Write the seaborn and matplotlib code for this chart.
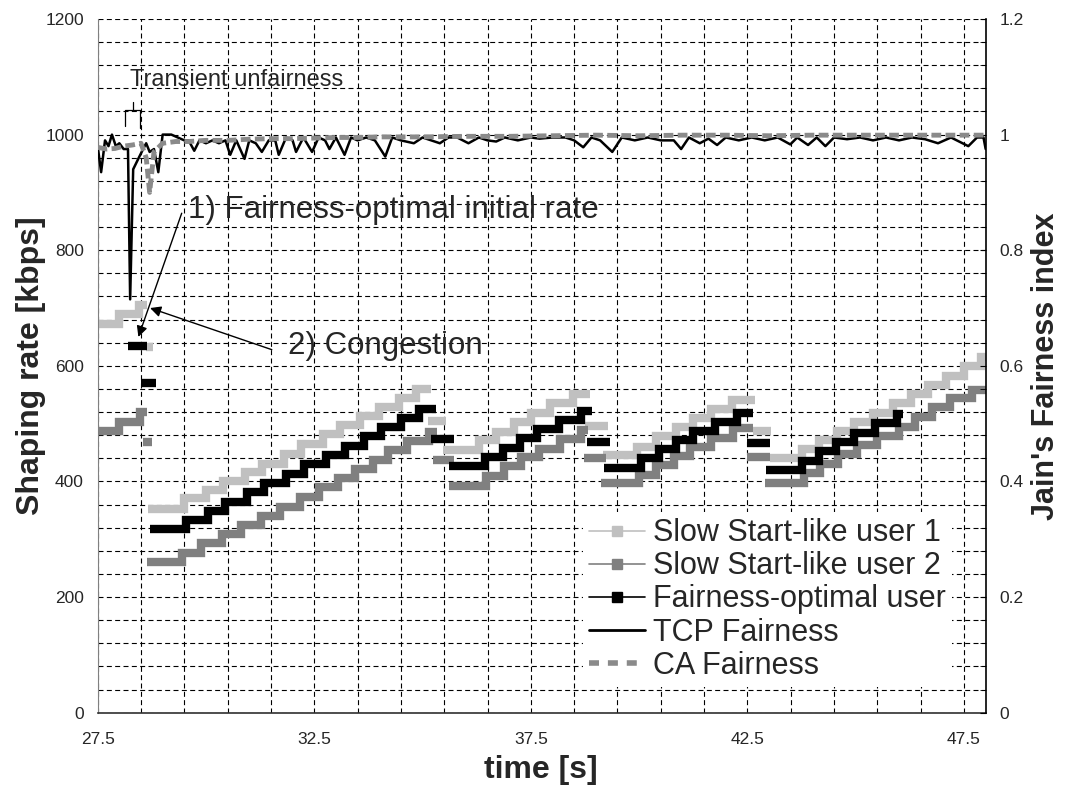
"""Shaping rate staircase vs Jain's fairness index"""

import numpy as np
import pandas as pd
import matplotlib
matplotlib.use("Agg")
import matplotlib.pyplot as plt
from matplotlib.lines import Line2D
from matplotlib.ticker import FixedLocator, MultipleLocator, FuncFormatter
import seaborn as sns

nan = np.nan

# step series: start times of each level, NaN value = end of a segment
user1_t = [27.5, 28.0, 28.45, 28.64,
           28.62, 28.78,
           28.67, 29.5, 30.0, 30.4, 30.9, 31.3, 31.8, 32.2, 32.7, 33.1, 33.55,
           34.0, 34.45, 34.85, 35.2,
           35.12, 35.55,
           35.48, 36.3, 36.7, 37.1, 37.5, 37.95, 38.48, 38.86,
           38.75, 39.27,
           39.17, 39.95, 40.4, 40.85, 41.25, 41.65, 42.15, 42.67,
           42.63, 43.05,
           43.02, 43.75, 44.15, 44.57, 44.97, 45.4, 45.85, 46.28, 46.66, 47.08,
           47.5, 47.9, 48.0]
user1_v = [672, 689, 705, nan,
           633, nan,
           352, 371, 385, 401, 416, 431, 448, 464, 482, 497, 513,
           529, 544, 560, nan,
           505, nan,
           454, 472, 486, 503, 518, 535, 551, nan,
           496, nan,
           446, 460, 478, 494, 509, 525, 541, nan,
           488, nan,
           440, 456, 472, 488, 503, 519, 535, 551, 567, 583,
           599, 615, nan]

user2_t = [27.5, 28.0, 28.48, 28.65,
           28.55, 28.75,
           28.63, 29.45, 29.88, 30.36, 30.8, 31.28, 31.7, 32.18, 32.6, 33.05,
           33.45, 33.85, 34.2, 34.65, 35.15, 35.34,
           35.23, 35.72,
           35.62, 36.47, 36.88, 37.28, 37.7, 38.18, 38.65, 38.82,
           38.72, 39.23,
           39.11, 40.0, 40.4, 40.8, 41.17, 41.67, 42.17, 42.62,
           42.5, 43.02,
           42.9, 43.8, 44.17, 44.6, 45.02, 45.5, 46.0, 46.36, 46.76, 47.17,
           47.68, 48.0]
user2_v = [488, 503, 521, nan,
           468, nan,
           261, 277, 293, 309, 325, 340, 356, 373, 390, 406,
           422, 437, 454, 470, 486, nan,
           437, nan,
           392, 409, 426, 442, 457, 474, 489, nan,
           440, nan,
           397, 412, 428, 444, 460, 476, 492, nan,
           443, nan,
           398, 415, 431, 448, 463, 479, 495, 512, 528, 544,
           558, nan]

optimal_t = [28.2, 28.63,
             28.5, 28.85,
             28.71, 29.55, 30.05, 30.45, 30.95, 31.35, 31.85, 32.27, 32.78,
             33.2, 33.65, 34.05, 34.5, 34.92, 35.3,
             35.2, 35.72,
             35.62, 36.45, 36.85, 37.25, 37.65, 38.15, 38.65, 38.92,
             38.8, 39.32,
             39.2, 40.05, 40.45, 40.85, 41.25, 41.75, 42.25, 42.62,
             42.5, 43.02,
             42.92, 43.75, 44.15, 44.55, 44.95, 45.45, 45.95, 46.1]
optimal_v = [634, nan,
             570, nan,
             318, 333, 349, 365, 381, 398, 413, 430, 446,
             462, 478, 494, 509, 525, nan,
             473, nan,
             426, 442, 458, 475, 490, 506, 522, nan,
             469, nan,
             423, 440, 456, 472, 488, 503, 519, nan,
             467, nan,
             420, 436, 452, 469, 484, 501, 516, nan]

# Jain's fairness index (right axis)
tcp_t = [27.5, 27.58, 27.67, 27.75, 27.83, 27.92, 28.0, 28.1, 28.2, 28.25,
         28.32, 28.45, 28.55, 28.62, 28.7, 28.8, 28.9, 29.0, 29.2, 29.35,
         29.5, 29.6, 29.73, 29.85, 30.0, 30.15, 30.3, 30.45, 30.56, 30.7,
         30.89, 31.0, 31.15, 31.29, 31.45, 31.6, 31.68, 31.85, 32.0, 32.08,
         32.25, 32.45, 32.6, 32.75, 32.85, 33.0, 33.2, 33.35, 33.5, 33.7,
         33.9, 34.14, 34.3, 34.5, 34.8, 35.0, 35.2, 35.4, 35.6, 35.8,
         36.06, 36.3, 36.5, 36.7, 36.9, 37.2, 37.5, 37.7, 38.0, 38.3,
         38.5, 38.71, 38.9, 39.1, 39.38, 39.6, 39.9, 40.2, 40.5, 40.8,
         40.97, 41.15, 41.4, 41.6, 41.8, 42.0, 42.3, 42.6, 42.9, 43.2,
         43.49, 43.65, 43.9, 44.1, 44.3, 44.5, 44.8, 45.1, 45.4, 45.7,
         46.0, 46.3, 46.6, 46.9, 47.2, 47.6, 47.8, 47.95, 48.0]
tcp_v = [0.98, 0.935, 0.99, 0.98, 1.0, 0.98, 0.985, 0.975, 0.975, 0.715,
         0.94, 0.96, 0.975, 0.985, 0.97, 0.975, 0.935, 1.0, 1.0, 0.995,
         0.99, 0.99, 0.972, 0.99, 0.985, 0.99, 0.985, 0.99, 0.965, 0.99,
         0.958, 0.99, 0.985, 0.97, 0.99, 0.99, 0.965, 0.995, 0.99, 0.97,
         0.995, 0.97, 0.995, 0.99, 0.975, 0.995, 0.965, 0.995, 0.99, 0.995,
         0.99, 0.962, 0.995, 0.99, 0.985, 0.995, 0.99, 0.985, 0.995, 0.995,
         0.985, 0.995, 0.99, 0.988, 0.995, 0.99, 0.995, 0.993, 0.995, 0.995,
         0.99, 0.978, 0.995, 0.99, 0.97, 0.995, 0.99, 0.995, 0.99, 0.99,
         0.975, 0.995, 0.985, 0.993, 0.982, 0.995, 0.99, 0.995, 0.99, 0.995,
         0.983, 0.995, 0.982, 0.995, 0.98, 0.995, 0.992, 0.995, 0.99, 0.995,
         0.99, 0.995, 0.992, 0.985, 0.995, 0.98, 0.995, 0.995, 0.975]

ca_t = [27.5, 27.7, 27.9, 28.1, 28.3, 28.5, 28.62, 28.7, 28.8, 29.0, 29.3,
        29.6, 30.0, 30.5, 31.0, 31.5, 32.0, 32.5, 33.0, 33.5, 34.0, 35.0,
        36.0, 37.0, 38.0, 39.0, 40.0, 41.0, 42.0, 43.0, 44.0, 45.0, 46.0,
        47.0, 48.0]
ca_v = [0.978, 0.975, 0.976, 0.98, 0.982, 0.985, 0.96, 0.9, 0.97, 0.985, 0.988,
        0.988, 0.99, 0.99, 0.992, 0.993, 0.993, 0.994, 0.995, 0.995, 0.996,
        0.996, 0.997, 0.997, 0.998, 0.999, 0.998, 0.999, 0.999, 0.998, 0.999,
        0.999, 0.999, 0.999, 0.999]

names = ["Slow Start-like user 1", "Slow Start-like user 2",
         "Fairness-optimal user"]
colors = ["#c0c0c0", "#808080", "#000000"]


def to_rows(name, t, v):
    """split a NaN-terminated step list into segments"""
    rows = []
    seg = 0
    last = nan
    for ti, vi in zip(t, v):
        if np.isnan(vi):
            rows.append((name, f"{name}-{seg}", ti, last))
            seg += 1
        else:
            rows.append((name, f"{name}-{seg}", ti, vi))
            last = vi
    return rows


rows = (to_rows(names[0], user1_t, user1_v) + to_rows(names[1], user2_t, user2_v)
        + to_rows(names[2], optimal_t, optimal_v))
steps = pd.DataFrame(rows, columns=["series", "seg", "time", "rate"])
fair = pd.concat([
    pd.DataFrame({"time": tcp_t, "jain": tcp_v, "kind": "TCP Fairness"}),
    pd.DataFrame({"time": ca_t, "jain": ca_v, "kind": "CA Fairness"}),
])

sns.set_style("white")
plt.rcParams["font.family"] = ["Liberation Sans", "DejaVu Sans"]

fig = plt.figure(figsize=(10.65, 7.9), dpi=100)
ax = fig.add_axes([0.0917, 0.0978, 0.8338, 0.8782])
ax2 = ax.twinx()

sns.lineplot(data=steps, x="time", y="rate", hue="series", hue_order=names,
             palette=colors, units="seg", estimator=None, sort=True,
             drawstyle="steps-post", lw=6, solid_capstyle="butt",
             solid_joinstyle="miter", legend=False, ax=ax)

sns.lineplot(data=fair[fair["kind"] == "TCP Fairness"], x="time", y="jain",
             color="k", lw=1.8, estimator=None, legend=False, ax=ax2)
sns.lineplot(data=fair[fair["kind"] == "CA Fairness"], x="time", y="jain",
             color="#8a8a8a", lw=3.5, dashes=False, estimator=None,
             legend=False, ax=ax2)
ax2.lines[-1].set_dashes((2.0, 0.9))

ax.set_xlim(27.5, 48.0)
ax.set_ylim(0, 1200)
ax2.set_ylim(0, 1.2)

ax.xaxis.set_major_locator(FixedLocator(np.arange(27.5, 48, 5)))
ax.xaxis.set_minor_locator(FixedLocator(np.arange(28.5, 48, 1)))
ax.xaxis.set_major_formatter(FuncFormatter(lambda x, p: f"{x:.1f}"))
ax.yaxis.set_major_locator(MultipleLocator(200))
ax.yaxis.set_minor_locator(MultipleLocator(40))
ax2.yaxis.set_major_locator(MultipleLocator(0.2))
ax2.yaxis.set_minor_locator(MultipleLocator(0.04))
ax2.yaxis.set_major_formatter(FuncFormatter(lambda y, p: f"{y:g}"))

ax.grid(which="both", color="k", lw=0.8, ls=(0, (4.5, 3)))
ax.tick_params(axis="y", which="both", length=0, pad=10, labelsize=12.5)
ax.tick_params(axis="x", which="both", direction="in", length=7, pad=14,
               labelsize=12.5, color="k")
ax2.tick_params(axis="y", which="both", direction="in", length=4, pad=10,
                labelsize=12.5, color="k")

for s in ["top", "right"]:
    ax.spines[s].set_visible(False)
for s in ["top", "left", "bottom"]:
    ax2.spines[s].set_visible(False)
ax.spines["left"].set_color("#808080")
ax.spines["bottom"].set_color("#303030")
ax.spines["bottom"].set_linewidth(1.2)
ax2.spines["right"].set_color("k")
ax2.spines["right"].set_linewidth(1.2)

ax.set_xlabel("time [s]", fontsize=23, fontweight="bold")
ax.set_ylabel("Shaping rate [kbps]", fontsize=23, fontweight="bold")
ax2.set_ylabel("Jain's Fairness index", fontsize=22, fontweight="bold",
               rotation=90)
ax.xaxis.set_label_coords(0.499, -0.061)
ax.yaxis.set_label_coords(-0.058, 0.5)
ax2.yaxis.set_label_coords(1.051, 0.5)

# annotations
ax.plot([28.13, 28.13, 28.48, 28.48], [1014, 1042, 1042, 1012], color="k", lw=0.9)
ax.plot([28.31, 28.31], [1042, 1057], color="k", lw=0.9)
ax.text(28.25, 1094, "Transient unfairness", fontsize=17, va="center")
ax.text(29.59, 869, "1) Fairness-optimal initial rate", fontsize=22.5,
        va="center")
ax.annotate("", xy=(28.44, 650), xytext=(29.44, 864),
            arrowprops=dict(arrowstyle="-|>", color="k", lw=1,
                            mutation_scale=16, shrinkA=0, shrinkB=0))
ax.text(31.89, 634, "2) Congestion", fontsize=22.5, va="center")
ax.annotate("", xy=(28.71, 700), xytext=(31.52, 628),
            arrowprops=dict(arrowstyle="-|>", color="k", lw=1,
                            mutation_scale=16, shrinkA=0, shrinkB=0))

handles = [
    Line2D([], [], color=colors[0], lw=1.2, marker="s", ms=7),
    Line2D([], [], color=colors[1], lw=1.2, marker="s", ms=7),
    Line2D([], [], color=colors[2], lw=1.2, marker="s", ms=7),
    Line2D([], [], color="k", lw=2),
    Line2D([], [], color="#8a8a8a", lw=4, dashes=(1.8, 1.6)),
]
labels = names + ["TCP Fairness", "CA Fairness"]
leg = ax2.legend(handles, labels, loc="upper left",
                 bbox_to_anchor=(0.546, 0.289), fontsize=22,
                 frameon=True, fancybox=False, framealpha=1,
                 handlelength=1.85, handletextpad=0.27, labelspacing=0.1,
                 borderpad=0.2, borderaxespad=0)
leg.get_frame().set_linewidth(0)
leg.get_frame().set_facecolor("white")

fig.savefig("out.png", dpi=100)
